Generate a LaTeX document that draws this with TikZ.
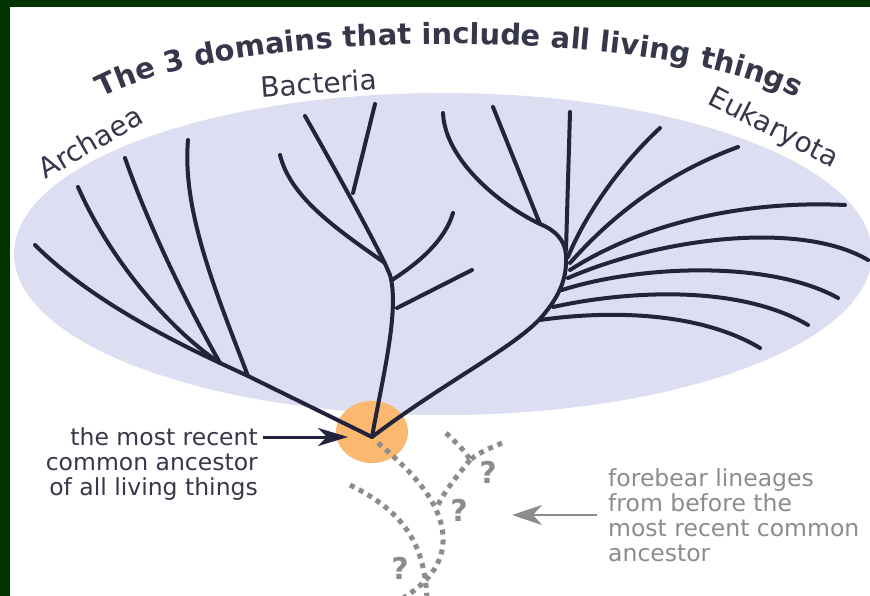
\documentclass[tikz,border=0pt]{standalone}
\usepackage{fontspec}
\setmainfont{DejaVu Sans}
\usetikzlibrary{decorations.text,arrows.meta}
\definecolor{framegreen}{RGB}{0,51,0}
\definecolor{navy}{RGB}{35,35,60}
\definecolor{txtdark}{RGB}{55,55,75}
\definecolor{dotgray}{RGB}{140,140,140}
\definecolor{lav}{RGB}{222,222,242}
\definecolor{orng}{RGB}{250,185,110}
\begin{document}
\begin{tikzpicture}[x=1pt,y=-1pt,
  tree/.style={draw=navy,line width=4pt,line cap=round,line join=round},
  dots/.style={draw=dotgray,line width=5pt,dash pattern=on 5pt off 5pt},
  domlbl/.style={font=\fontsize{28}{32}\selectfont,text=txtdark,inner sep=0pt},
  lbl/.style={font=\fontsize{23.5}{25}\selectfont,inner sep=0pt},
  qmark/.style={font=\bfseries\fontsize{30}{32}\selectfont,text=dotgray,inner sep=0pt}]
\useasboundingbox (0,0) rectangle (870,596);
\begin{scope}
\clip (0,0) rectangle (870,596);
\fill[white] (0,0) rectangle (870,596);
\fill[lav] (443,254) ellipse [x radius=429pt, y radius=161pt];
\fill[orng] (372,432) ellipse [x radius=36pt, y radius=31pt];
% coordinates
\coordinate (R) at (372,437);
% Archaea
\draw[tree] (R) -- (248,376) -- (220,363);
\draw[tree] (248,376) .. controls (215,290) and (182,210) .. (188,140);
\draw[tree] (220,363) .. controls (190,310) and (150,230) .. (125,158);
\draw[tree] (220,363) .. controls (170,330) and (110,260) .. (78,187);
\draw[tree] (220,363) .. controls (160,335) and (85,295) .. (35,245);
% Bacteria
\draw[tree] (R) .. controls (382,380) and (400,310) .. (390,275) .. controls (380,250) and (330,160) .. (305,116);
\draw[tree] (397,308) -- (472,270);
\draw[tree] (392,280) .. controls (420,262) and (445,240) .. (453,213);
\draw[tree] (385,263) .. controls (330,225) and (290,195) .. (280,155);
\draw[tree] (353,193) -- (375,104);
% Eukaryota
\draw[tree] (R) .. controls (450,378) and (520,345) .. (545,313) .. controls (562,292) and (567,275) .. (566,255) .. controls (565,240) and (555,230) .. (540,224);
\draw[tree] (540,224) .. controls (500,205) and (445,160) .. (443,113);
\draw[tree] (540,224) -- (493,107);
\draw[tree] (566,250) -- (570,112);
\draw[tree] (568,257) .. controls (585,215) and (620,165) .. (660,128);
\draw[tree] (570,263) .. controls (615,212) and (670,172) .. (738,147);
\draw[tree] (570,270) .. controls (640,225) and (740,200) .. (845,205);
\draw[tree] (568,278) .. controls (660,238) and (800,220) .. (868,260);
\draw[tree] (562,290) .. controls (640,265) and (770,260) .. (838,298);
\draw[tree] (553,307) .. controls (630,290) and (740,285) .. (808,325);
\draw[tree] (540,320) .. controls (610,310) and (700,312) .. (760,348);
% dotted lineages
\draw[dots] (378,443) .. controls (410,470) and (440,500) .. (443,535) .. controls (445,565) and (425,585) .. (400,600);
\draw[dots] (446,433) .. controls (455,442) and (465,450) .. (470,460);
\draw[dots] (502,443) .. controls (490,448) and (478,453) .. (470,460);
\draw[dots] (470,460) .. controls (458,475) and (445,490) .. (437,507);
\draw[dots] (350,485) .. controls (400,510) and (425,540) .. (427,600);
\node[qmark] (q1) at (488,472) {?};
\node[qmark] (q2) at (459,510) {?};
\node[qmark] (q3) at (400,568) {?};
% frame
\fill[framegreen] (0,0) rectangle (870,7);
\fill[framegreen] (0,0) rectangle (10,596);
\end{scope}
% title
\path[decorate,decoration={text along path,text align=center,
  text={|\bfseries\fontsize{29}{32}\selectfont\color{txtdark}|The 3 domains that include all living things}}]
  (82,110) .. controls (195,22) and (695,22) .. (816,110);
% domain labels
\node[domlbl,rotate=30] (arch) at (90,142) {Archaea};
\node[domlbl,rotate=4] (bact) at (319,83) {Bacteria};
\node[domlbl,rotate=-27] (euk) at (773,129) {Eukaryota};
% labels
\node[lbl,text=txtdark,align=right,anchor=north east] (mrca) at (258,427) {the most recent\\common ancestor\\of all living things};
\node[lbl,text=dotgray,align=left,anchor=north west] (fore) at (608,468) {forebear lineages\\from before the\\most recent common\\ancestor};
\coordinate (mrcaTip) at (348,437);
\coordinate (mrcaTail) at (263,437);
\coordinate (foreTip) at (512,515);
\coordinate (foreTail) at (597,515);
\draw[navy,line width=3pt,-{Stealth[length=30pt,width=18pt,inset=9pt]}] (mrcaTail) -- (mrcaTip);
\draw[dotgray,line width=2.5pt,-{Stealth[length=30pt,width=20pt,inset=9pt]}] (foreTail) -- (foreTip);
\end{tikzpicture}
\end{document}
